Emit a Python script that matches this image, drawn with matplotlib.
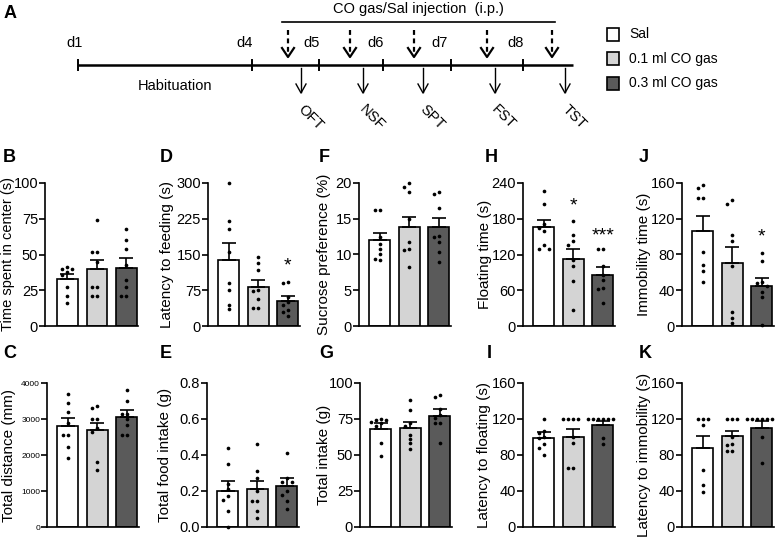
import matplotlib
matplotlib.use('Agg')
import matplotlib.pyplot as plt
from matplotlib.patches import Rectangle
import numpy as np

plt.rcParams['font.family'] = ['Liberation Sans', 'DejaVu Sans']

W, H = 782, 538

groups = ['Sal', '0.1 ml CO gas', '0.3 ml CO gas']
bar_colors = ['#ffffff', '#d4d4d4', '#5a5a5a']

# panel A timeline
day_labels = ['d1', 'd4', 'd5', 'd6', 'd7', 'd8']
day_ticks = [78, 252, 319, 383, 451, 523]
day_label_x = [75, 245, 312, 376, 440, 516]
injection_x = [288, 350, 414, 487, 552]
tests = ['OFT', 'NSF', 'SPT', 'FST', 'TST']
test_x = [301, 363, 423, 495, 565]

# B - time in center (s)
b_mean = [32.8, 40.2, 40.5]
b_sem = [3.6, 6.1, 6.9]
b_pts = [[41, 40, 40, 38, 36, 27, 21, 16],
         [74, 52, 52, 45, 27, 27, 21, 21],
         [68, 60, 54, 43, 32, 27, 21, 21]]

# D - latency to feeding (s)
d_mean = [139, 81, 53]
d_sem = [36, 16, 10]
d_pts = [[300, 220, 204, 156, 90, 75, 45, 36],
         [145, 133, 118, 76, 74, 56, 38, 37],
         [92, 90, 60, 50, 44, 34, 30, 20]]
d_stars = [(2, 139, '*')]

# F - sucrose preference (%)
f_mean = [12.0, 13.9, 13.9]
f_sem = [1.0, 1.4, 1.2]
f_pts = [[16.2, 16.2, 12.5, 11.5, 10.7, 10.0, 9.4, 9.2],
         [20.0, 19.5, 18.8, 14.9, 11.8, 10.7, 10.6, 8.3],
         [18.8, 18.5, 16.5, 12.6, 12.4, 11.8, 10.4, 8.9]]

# H - floating time (s)
h_mean = [166, 113, 86]
h_sem = [12, 16, 13]
h_pts = [[226, 204, 172, 165, 159, 136, 130, 130],
         [176, 153, 142, 136, 110, 100, 75, 27],
         [129, 129, 100, 86, 77, 63, 62, 38]]
h_stars = [(1, 212, '*'), (2, 161, '***')]

# J - immobility time (s)
j_mean = [106.5, 70.5, 44.5]
j_sem = [17, 18, 9]
j_pts = [[158, 154, 143, 143, 83, 68, 62, 49],
         [141, 137, 102, 95, 67, 16, 9, 3],
         [82, 73, 49, 48, 45, 38, 33, 1]]
j_stars = [(2, 107, '*')]

# C - total distance (mm)
c_mean = [2810, 2690, 3060]
c_sem = [210, 210, 195]
c_pts = [[3690, 3440, 3190, 2880, 2560, 2550, 2230, 1910],
         [3370, 3300, 3000, 2990, 2740, 2630, 1810, 1580],
         [3810, 3490, 3140, 3130, 3000, 2840, 2560, 2560]]

# E - total food intake (g)
e_mean = [0.200, 0.210, 0.228]
e_sem = [0.054, 0.047, 0.042]
e_pts = [[0.44, 0.35, 0.24, 0.21, 0.17, 0.15, 0.09, 0.0],
         [0.46, 0.31, 0.27, 0.20, 0.145, 0.145, 0.09, 0.05],
         [0.41, 0.27, 0.25, 0.25, 0.20, 0.18, 0.145, 0.10]]

# G - total intake (g)
g_mean = [68.0, 68.5, 77.3]
g_sem = [4.5, 4.5, 4.7]
g_pts = [[75, 74, 74, 73, 72, 70, 58, 49],
         [88.5, 81, 72, 70, 64, 61, 58, 54],
         [92, 90, 82, 78, 76, 72, 72, 58]]

# I - latency to floating (s)
i_mean = [99, 100.4, 113.5]
i_sem = [7, 8, 4.5]
i_pts = [[120, 107, 104, 100, 99, 92, 88, 80],
         [120, 120, 120, 120, 100, 93, 66, 66],
         [120, 120, 120, 120, 120, 120, 99, 92]]

# K - latency to immobility (s)
k_mean = [88, 101, 110.5]
k_sem = [13, 5.8, 7.5]
k_pts = [[120, 120, 120, 113, 63, 47, 39],
         [120, 120, 120, 100, 92, 91, 85, 84],
         [120, 120, 120, 120, 120, 120, 100, 71]]


def swarm(vals, span, step=0.17):
    vals = np.asarray(vals, dtype=float)
    order = np.argsort(-vals, kind='stable')
    offs = np.zeros(len(vals))
    placed = []
    pattern = [0, -1, 1, -2, 2, -3, 3]
    for i in order:
        near = [j for j in placed if abs(vals[j] - vals[i]) < span * 0.03]
        used = {int(round(offs[j] / step)) for j in near}
        p = next(q for q in pattern if q not in used)
        offs[i] = p * step
        placed.append(i)
    return offs


fig = plt.figure(figsize=(W / 100, H / 100), dpi=100)

# overlay axes in pixel coordinates for panel A and the letters
ax0 = fig.add_axes([0, 0, 1, 1])
ax0.set_xlim(0, W)
ax0.set_ylim(H, 0)
ax0.axis('off')

ax0.plot([day_ticks[0], 573], [65, 65], color='k', lw=1.8, solid_capstyle='butt')
for x, lx, lab in zip(day_ticks, day_label_x, day_labels):
    ax0.plot([x, x], [60, 70], color='k', lw=1.4)
    ax0.text(lx, 43, lab, ha='center', va='center', fontsize=10.5)
ax0.plot([282, 555], [22, 22], color='k', lw=1.2)
ax0.text(418, 9, 'CO gas/Sal injection  (i.p.)', ha='center', va='center', fontsize=10.5)
for x in injection_x:
    ax0.plot([x, x], [30, 55], color='k', lw=1.6, ls=(0, (2.2, 1.6)))
    ax0.plot([x - 6, x, x + 6], [48, 57, 48], color='k', lw=1.6)
for x, t in zip(test_x, tests):
    ax0.plot([x, x], [68, 92], color='k', lw=1.0)
    ax0.plot([x - 5, x, x + 5], [84, 93, 84], color='k', lw=1.0)
    ax0.text(x - 1, 107, t, rotation=-45, rotation_mode='anchor',
             ha='left', va='center', fontsize=10.5)
ax0.text(175, 86, 'Habituation', ha='center', va='center', fontsize=10.5)

for k, (g, col) in enumerate(zip(groups, bar_colors)):
    yc = 34 + k * 24.5
    ax0.add_patch(Rectangle((607, yc - 6.5), 12, 13, facecolor=col,
                            edgecolor='k', lw=1.2))
    ax0.text(629, yc, g, ha='left', va='center', fontsize=10)

for lab, x, y in [('A', 4, 13), ('B', 3, 157), ('D', 160, 157), ('F', 319, 157),
                  ('H', 485, 157), ('J', 639, 157), ('C', 3, 353), ('E', 160, 353),
                  ('G', 319, 353), ('I', 487, 353), ('K', 639, 353)]:
    ax0.text(x, y, lab, ha='left', va='center', fontsize=13, fontweight='bold')

# bar panels: (mean, sem, pts, ymax, ticks, ylabel, label size, stars,
#              left px, gap px, ylabel x px, row)
panels = [
    (b_mean, b_sem, b_pts, 100, [0, 25, 50, 75, 100], 'Time spent in center (s)', 10.5, [], 45, 12, 8, 0),
    (d_mean, d_sem, d_pts, 300, [0, 75, 150, 225, 300], 'Latency to feeding (s)', 11, d_stars, 208, 10.3, 167, 0),
    (f_mean, f_sem, f_pts, 20, [0, 5, 10, 15, 20], 'Sucrose preference (%)', 11, [], 359, 10.3, 324, 0),
    (h_mean, h_sem, h_pts, 240, [0, 60, 120, 180, 240], 'Floating time (s)', 11, h_stars, 523, 10.3, 485, 0),
    (j_mean, j_sem, j_pts, 160, [0, 40, 80, 120, 160], 'Immobility time (s)', 11, j_stars, 682, 10.3, 644, 0),
    (c_mean, c_sem, c_pts, 4000, [0, 1000, 2000, 3000, 4000], 'Total distance (mm)', 11, [], 47, 10.3, 9, 1),
    (e_mean, e_sem, e_pts, 0.8, [0.0, 0.2, 0.4, 0.6, 0.8], 'Total food intake (g)', 11, [], 207, 10.3, 165, 1),
    (g_mean, g_sem, g_pts, 100, [0, 25, 50, 75, 100], 'Total intake (g)', 11, [], 360, 10.3, 324, 1),
    (i_mean, i_sem, i_pts, 160, [0, 40, 80, 120, 160], 'Latency to floating (s)', 11, [], 523, 10.3, 484, 1),
    (k_mean, k_sem, k_pts, 160, [0, 40, 80, 120, 160], 'Latency to immobility (s)', 11, [], 682, 10.3, 644, 1),
]

rows = [(183, 326), (383, 527)]
ppu = 29.5
bw = 0.71
xr = 2.40
xs = np.arange(3)

for mean, sem, pts, ymax, ticks, ylab, lab_fs, stars, left, gap, lab_x, row in panels:
    xl = -bw / 2 - gap / ppu
    top, bot = rows[row]
    wpx = (xr - xl) * ppu
    ax = fig.add_axes([left / W, 1 - bot / H, wpx / W, (bot - top) / H])
    ax.bar(xs, mean, width=bw, color=bar_colors, edgecolor='k', linewidth=1.2, zorder=1)
    ax.errorbar(xs, mean, yerr=[np.zeros(3), sem], fmt='none', ecolor='k',
                elinewidth=1.2, capsize=5, capthick=1.2, zorder=2)
    for k in range(3):
        offs = swarm(pts[k], ymax)
        ax.scatter(xs[k] + offs, pts[k], s=7, color='k', linewidths=0,
                   zorder=3, clip_on=False)
    for xi, yv, s in stars:
        ax.annotate(s, xy=(xi, yv), xytext=(0, -0.55 * 14), textcoords='offset points',
                    ha='center', va='baseline', fontsize=14)
    ax.set_xlim(xl, xr)
    ax.set_ylim(0, ymax)
    ax.set_yticks(ticks)
    if ymax < 1:
        ax.set_yticklabels([f'{t:.1f}' for t in ticks])
    else:
        ax.set_yticklabels([str(t) for t in ticks])
    ax.set_ylabel(ylab, fontsize=lab_fs, rotation=90, rotation_mode='default',
                  ha='center', va='center')
    ax.yaxis.set_label_coords((lab_x - left) / wpx, 0.5)
    for sp in ['top', 'right']:
        ax.spines[sp].set_visible(False)
    for sp in ['left', 'bottom']:
        ax.spines[sp].set_linewidth(1.2)
    ax.tick_params(axis='x', bottom=False, labelbottom=False)
    ax.tick_params(axis='y', direction='out', length=4, width=1.2, pad=1,
                   labelsize=6 if ymax >= 1000 else 10.5)
    ax.patch.set_alpha(0)

plt.savefig('out.png', dpi=100)
